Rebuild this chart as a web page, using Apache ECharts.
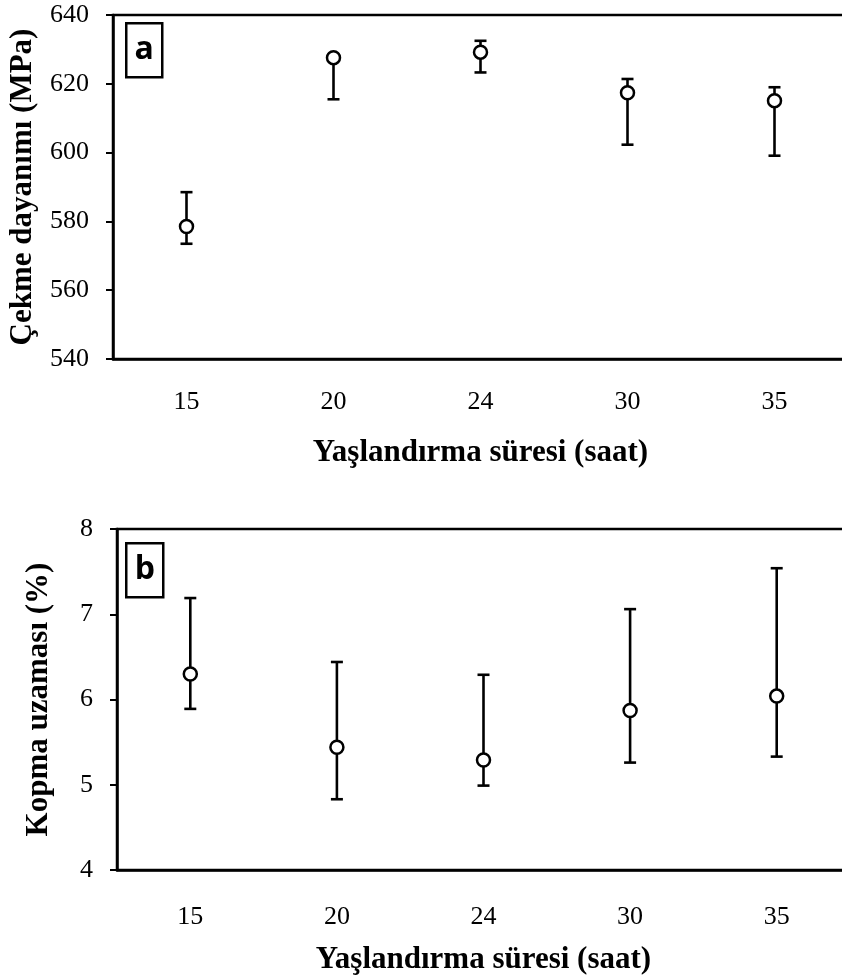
<!DOCTYPE html>
<html>
<head>
<meta charset="utf-8">
<script src="https://cdn.jsdelivr.net/npm/echarts@6/dist/echarts.min.js"></script>
<style>html,body{margin:0;padding:0;background:#fff}#c{width:842px;height:978px}</style>
</head>
<body>
<div id="c"></div>
<script>
// Aging time categories (hours)
const categories = ['15', '20', '24', '30', '35'];
// (a) Tensile strength (MPa)
const tensileMean = [578.5, 627.6, 629.2, 617.4, 615.1];
const tensileHigh = [588.5, 628.5, 632.5, 621.4, 619.0];
const tensileLow  = [573.5, 615.5, 623.3, 602.3, 599.1];
// (b) Elongation at break (%)
const elongMean = [6.30, 5.44, 5.29, 5.87, 6.04];
const elongHigh = [7.19, 6.44, 6.29, 7.06, 7.54];
const elongLow  = [5.89, 4.83, 4.99, 5.26, 5.33];

const xName = 'Yaşlandırma süresi (saat)';
const yNameA = 'Çekme dayanımı (MPa)';
const yNameB = 'Kopma uzaması (%)';

const serif = '"Liberation Serif", "Times New Roman", serif';
const chart = echarts.init(document.getElementById('c'), null, {renderer: 'canvas'});

function xAxisDef(gridIndex, labelMargin, nameGap) {
  return {
    type: 'category', gridIndex, data: categories, boundaryGap: true,
    name: xName, nameLocation: 'middle', nameGap,
    nameTextStyle: {fontFamily: serif, fontWeight: 'bold', fontSize: 31, color: '#000'},
    axisLine: {lineStyle: {color: '#000', width: 2.5}},
    axisTick: {alignWithLabel: true, length: 6, lineStyle: {color: '#000', width: 2}},
    axisLabel: {fontFamily: serif, fontSize: 26, color: '#000', margin: labelMargin},
    splitLine: {show: false}
  };
}
function yAxisDef(gridIndex, min, max, interval, name, nameGap) {
  return {
    type: 'value', gridIndex, min, max, interval,
    name, nameLocation: 'middle', nameGap,
    nameTextStyle: {fontFamily: serif, fontWeight: 'bold', fontSize: 31, color: '#000'},
    axisLine: {show: true, lineStyle: {color: '#000', width: 2.5}},
    axisTick: {show: true, length: 7, lineStyle: {color: '#000', width: 2}},
    axisLabel: {fontFamily: serif, fontSize: 26, color: '#000', margin: 24},
    splitLine: {show: false}
  };
}
function errorSeries(idx, low, high) {
  return {
    type: 'custom', xAxisIndex: idx, yAxisIndex: idx, z: 2, silent: true,
    data: categories.map((c, i) => [i, low[i], high[i]]),
    encode: {x: 0, y: [1, 2]},
    renderItem: (params, api) => {
      const lo = api.coord([api.value(0), api.value(1)]);
      const hi = api.coord([api.value(0), api.value(2)]);
      const hw = 6;
      const style = {stroke: '#000', lineWidth: 2.6, fill: null};
      return {type: 'group', children: [
        {type: 'line', shape: {x1: lo[0], y1: lo[1], x2: hi[0], y2: hi[1]}, style},
        {type: 'line', shape: {x1: lo[0] - hw, y1: lo[1], x2: lo[0] + hw, y2: lo[1]}, style},
        {type: 'line', shape: {x1: hi[0] - hw, y1: hi[1], x2: hi[0] + hw, y2: hi[1]}, style}
      ]};
    }
  };
}
function pointSeries(idx, values) {
  return {
    type: 'scatter', xAxisIndex: idx, yAxisIndex: idx, z: 5, silent: true,
    symbol: 'circle', symbolSize: 13,
    itemStyle: {color: '#fff', borderColor: '#000', borderWidth: 2.5, opacity: 1},
    data: values
  };
}
function panelLabel(letter, x, y, w, h) {
  return {
    type: 'group', left: x, top: y, z: 10,
    children: [
      {type: 'rect', shape: {x: 0, y: 0, width: w, height: h}, style: {fill: '#fff', stroke: '#000', lineWidth: 2.5}},
      {type: 'text', x: w / 2, y: h / 2, style: {text: letter, font: 'bold 32px "Open Sans", "Liberation Sans", sans-serif', fill: '#000', align: 'center', verticalAlign: 'middle'}}
    ]
  };
}

chart.setOption({
  animation: false,
  backgroundColor: '#fff',
  grid: [
    {left: 113, top: 15, height: 344, width: 735, outerBoundsMode: 'none', containLabel: false, show: true, borderColor: '#000', borderWidth: 2.5, backgroundColor: 'transparent'},
    {left: 117, top: 529, height: 341, width: 733, outerBoundsMode: 'none', containLabel: false, show: true, borderColor: '#000', borderWidth: 2.5, backgroundColor: 'transparent'}
  ],
  xAxis: [xAxisDef(0, 30, 78), xAxisDef(1, 34, 74)],
  yAxis: [
    yAxisDef(0, 540, 640, 20, yNameA, 75),
    yAxisDef(1, 4, 8, 1, yNameB, 63)
  ],
  series: [
    errorSeries(0, tensileLow, tensileHigh),
    pointSeries(0, tensileMean),
    errorSeries(1, elongLow, elongHigh),
    pointSeries(1, elongMean)
  ],
  graphic: [
    panelLabel('a', 125, 22, 36, 54),
    panelLabel('b', 125, 542, 37, 54)
  ]
});
</script>
</body>
</html>
